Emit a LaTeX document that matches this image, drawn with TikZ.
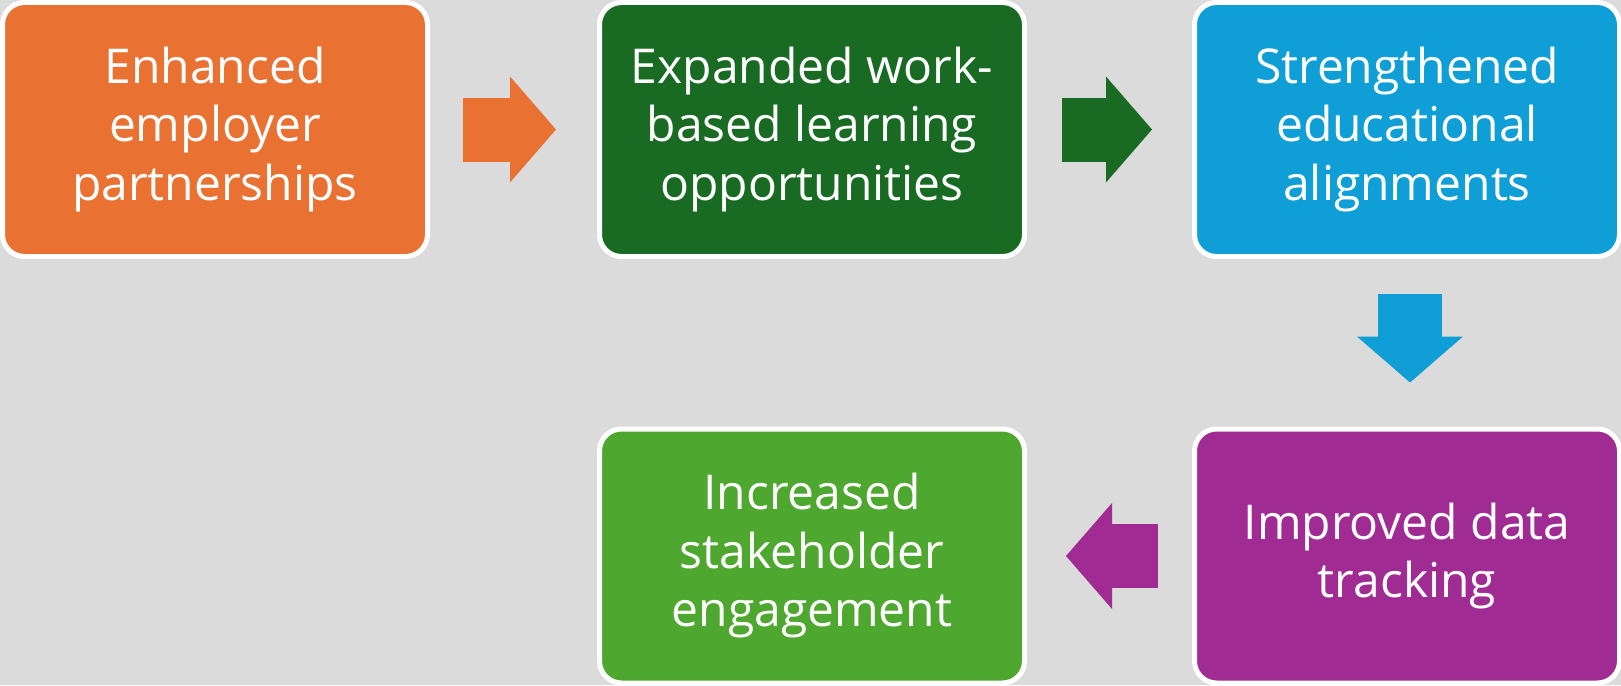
\documentclass[tikz,border=0pt]{standalone}
\usepackage{fontspec}
\setmainfont{Open Sans}
\usetikzlibrary{arrows.meta}
\definecolor{bg}{RGB}{219,219,219}
\definecolor{corange}{HTML}{E97132}
\definecolor{cdgreen}{HTML}{196B24}
\definecolor{cblue}{HTML}{0F9ED5}
\definecolor{cpurple}{HTML}{A02B93}
\definecolor{clgreen}{HTML}{4EA72E}
\begin{document}
\begin{tikzpicture}[x=1pt,y=-1pt,
  stepbox/.style={rectangle, rounded corners=22pt, draw=white, line width=5pt,
    minimum width=425pt, minimum height=254pt, inner sep=0pt, text=white,
    align=center, font=\fontsize{48}{58.5}\selectfont},
  blockarrow/.style={line width=64pt, -{Triangle[length=46pt,width=106pt,line width=0pt]}}
]
\useasboundingbox (0,0) rectangle (1621,685);
\fill[bg] (0,0) rectangle (1621,685);

\node[stepbox, fill=corange] (b1) at (215,129.5) {Enhanced\\employer\\partnerships};
\node[stepbox, fill=cdgreen] (b2) at (812,129.5) {Expanded work-\\based learning\\opportunities};
\node[stepbox, fill=cblue]   (b3) at (1407,129.5) {Strengthened\\educational\\alignments};
\node[stepbox, fill=cpurple] (b5) at (1407,556) {Improved data\\tracking};
\node[stepbox, fill=clgreen] (b4) at (812,556) {Increased\\stakeholder\\engagement};

\draw[blockarrow, corange] ([xshift=33pt]b1.east) -- ([xshift=-41pt]b2.west);
\draw[blockarrow, cdgreen] ([xshift=35pt]b2.east) -- ([xshift=-40pt]b3.west);
\draw[blockarrow, cblue] ([shift={(3,35)}]b3.south) -- ([shift={(3,-44)}]b5.north);
\draw[blockarrow, cpurple] ([xshift=-34pt]b5.west) -- ([xshift=39pt]b4.east);
\end{tikzpicture}
\end{document}
